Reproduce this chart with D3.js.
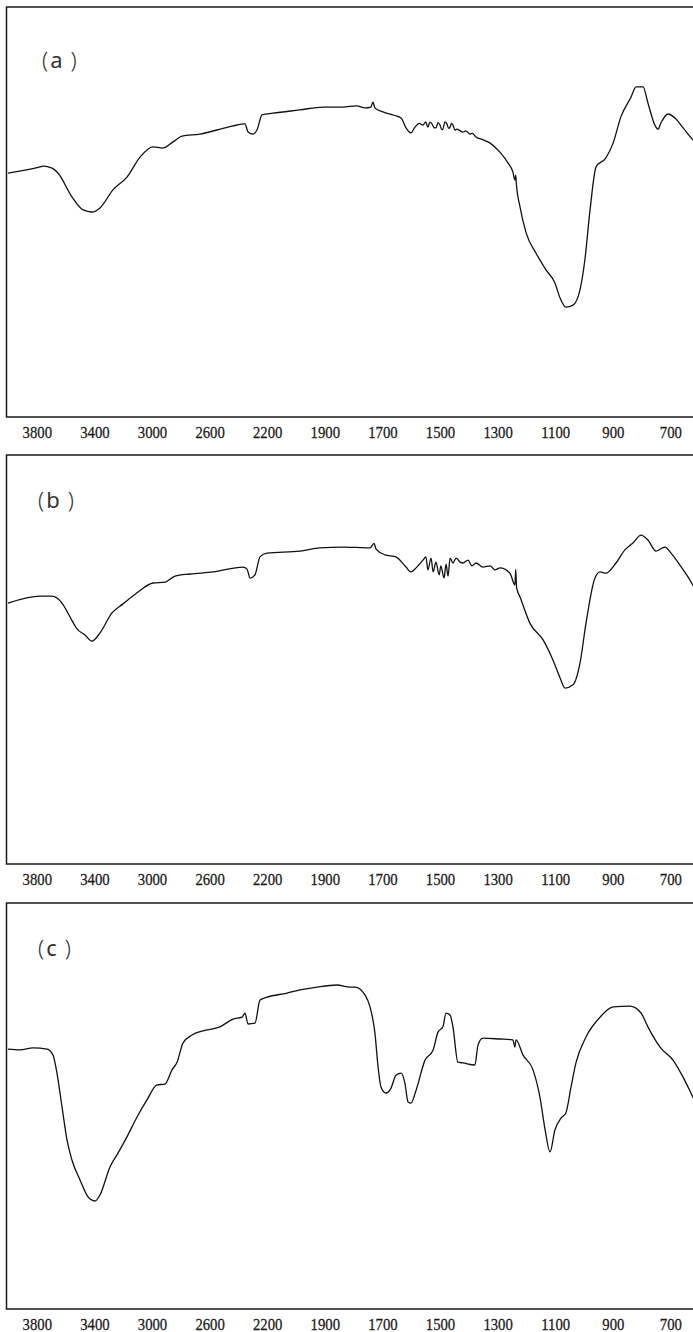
<!DOCTYPE html>
<html>
<head>
<meta charset="utf-8">
<script src="https://cdn.jsdelivr.net/npm/d3@7"></script>
<style>
  body { margin: 0; background: #fff; }
</style>
</head>
<body>
<div id="chart"></div>
<script>
// wavenumber (cm-1) tick labels along the bottom of every panel
var tickLabels = [3800, 3400, 3000, 2600, 2200, 1900, 1700, 1500, 1300, 1100, 900, 700];

// spectra: [wavenumber, transmittance %]
var spectrumA = [
  [4000,59.5],[3778,61.0],[3757,61.2],[3694,60.7],[3653,59.5],[3556,53.7],[3479,50.5],
  [3417,50.0],[3361,51.0],[3271,55.4],[3174,58.5],[3083,63.4],[2993,65.9],[2924,65.6],
  [2854,67.1],[2792,68.5],[2667,69.0],[2549,70.0],[2438,71.0],[2354,71.5],[2333,69.5],
  [2299,69.0],[2271,70.0],[2236,73.7],[2160,74.1],[1987,74.9],[1906,75.6],[1837,75.6],
  [1790,75.9],[1760,75.4],[1740,75.6],[1733,76.8],[1726,75.4],[1698,74.4],[1660,73.6],
  [1635,72.9],[1618,70.5],[1601,69.3],[1587,70.7],[1572,71.6],[1559,71.2],[1550,72.0],
  [1542,70.7],[1535,71.9],[1528,71.5],[1521,70.6],[1514,70.5],[1507,71.8],[1500,71.2],
  [1494,70.1],[1490,70.2],[1483,72.0],[1476,71.5],[1470,70.4],[1465,70.7],[1460,71.6],
  [1455,71.2],[1448,70.0],[1441,70.2],[1432,69.9],[1420,69.5],[1410,69.8],[1396,69.0],
  [1388,69.2],[1375,68.3],[1350,67.6],[1326,66.8],[1292,64.6],[1264,62.0],[1247,59.8],
  [1240,57.8],[1237,59.0],[1235,57.0],[1222,51.2],[1201,44.9],[1167,40.0],[1132,35.9],
  [1101,32.7],[1083,29.0],[1063,26.8],[1038,27.3],[1014,31.0],[997,38.3],[979,50.5],
  [958,61.0],[924,63.2],[899,66.8],[872,73.2],[837,78.0],[819,80.5],[795,80.5],
  [778,76.6],[754,71.2],[743,70.2],[733,71.7],[708,73.9],[684,72.9],[656,70.5],
  [622,67.6],[600,66.0]
];

var spectrumB = [
  [4000,63.8],[3778,65.5],[3694,65.5],[3625,63.8],[3569,60.4],[3521,57.5],[3465,56.0],
  [3417,54.5],[3361,56.5],[3278,61.4],[3201,63.6],[3104,66.3],[2993,68.7],[2910,68.9],
  [2840,70.4],[2736,70.9],[2576,71.4],[2368,72.6],[2340,72.1],[2319,69.9],[2285,70.7],
  [2250,75.1],[2201,76.0],[1986,76.5],[1917,77.3],[1837,77.5],[1743,77.3],[1729,78.4],
  [1722,77.0],[1691,75.6],[1653,75.1],[1618,72.6],[1601,71.4],[1583,72.4],[1559,74.3],
  [1549,75.1],[1542,71.9],[1531,74.8],[1524,71.4],[1514,73.8],[1503,70.7],[1497,72.9],
  [1486,69.9],[1479,73.3],[1472,70.4],[1465,74.8],[1455,73.6],[1444,74.8],[1430,73.8],
  [1420,73.6],[1403,74.3],[1389,72.9],[1375,73.6],[1351,72.6],[1326,72.9],[1309,71.9],
  [1292,72.4],[1257,71.1],[1240,68.2],[1237,72.0],[1234,67.5],[1222,65.3],[1188,58.9],
  [1142,54.8],[1108,49.9],[1083,45.5],[1066,43.0],[1038,43.8],[1014,49.1],[993,58.9],
  [962,69.9],[944,71.4],[924,71.1],[889,73.6],[858,76.8],[830,78.5],[802,80.4],
  [778,79.2],[750,76.5],[719,77.5],[698,76.0],[667,73.1],[639,70.2],[622,68.2],[600,66.0]
];

var spectrumC = [
  [4000,64.0],[3917,63.8],[3826,64.3],[3729,64.0],[3688,62.6],[3660,58.1],[3625,49.8],
  [3590,41.6],[3556,36.7],[3500,31.8],[3444,27.6],[3396,26.6],[3361,28.1],[3292,35.0],
  [3236,38.4],[3174,42.4],[3104,47.3],[3035,51.5],[2965,55.2],[2910,55.4],[2861,58.9],
  [2826,60.8],[2785,65.5],[2722,67.5],[2646,68.5],[2528,69.5],[2438,71.4],[2375,71.9],
  [2354,72.9],[2333,70.2],[2285,70.4],[2250,76.1],[2201,76.8],[2063,77.8],[1986,78.6],
  [1927,79.3],[1858,79.8],[1813,79.3],[1795,79.3],[1760,77.3],[1743,74.4],[1726,68.0],
  [1715,59.6],[1705,54.7],[1688,53.2],[1670,54.4],[1653,57.6],[1635,58.1],[1622,55.7],
  [1611,51.0],[1601,50.7],[1583,53.9],[1552,61.3],[1524,63.8],[1507,68.2],[1490,69.5],
  [1479,72.9],[1465,72.4],[1455,69.5],[1438,60.8],[1420,60.6],[1379,60.1],[1368,65.0],
  [1351,66.7],[1292,66.5],[1247,66.3],[1240,64.5],[1236,66.3],[1212,62.6],[1177,58.9],
  [1153,52.2],[1135,44.1],[1118,38.7],[1101,44.1],[1080,47.0],[1063,48.3],[1045,54.7],
  [1028,60.6],[993,67.0],[944,71.9],[899,74.4],[840,74.6],[802,72.9],[778,69.5],
  [736,64.5],[691,61.3],[656,57.1],[622,52.2],[600,49.0]
];

var panelNames = ["a", "b", "c"];
var spectra = [spectrumA, spectrumB, spectrumC];

var width = 693, height = 1332;
var layout = [
  { top: 7,   bottom: 417,  labelX: 42, labelBase: 61 },
  { top: 455, bottom: 864,  labelX: 38, labelBase: 53 },
  { top: 903, bottom: 1309, labelX: 38, labelBase: 53 }
];

var svg = d3.select("#chart").append("svg")
  .attr("width", width)
  .attr("height", height);

// the wavenumber axis changes scale at 2000 cm-1
var x = d3.scaleLinear()
  .domain([4000, 2000, 400])
  .range([8, 296, 756.8]);

var boxLeft = 6.5;

layout.forEach(function(p, i) {
  var y = d3.scaleLinear().domain([0, 100]).range([p.bottom, p.top]);
  var g = svg.append("g");

  // frame: left, top and bottom edges (right edge is cut off)
  g.append("path")
    .attr("d", "M" + width + "," + p.top + "H" + boxLeft + "V" + p.bottom + "H" + width)
    .style("fill", "none")
    .style("stroke", "#1a1a1a")
    .style("stroke-width", 1.5);

  var line = d3.line()
    .curve(d3.curveMonotoneX)
    .x(function(d) { return x(d[0]); })
    .y(function(d) { return y(d[1]); });

  g.append("path")
    .datum(spectra[i])
    .attr("d", line)
    .style("fill", "none")
    .style("stroke", "#111")
    .style("stroke-width", 1.3)
    .style("stroke-linejoin", "round");

  var axis = d3.axisBottom(x)
    .tickValues(tickLabels)
    .tickSize(0)
    .tickPadding(10)
    .tickFormat(d3.format("d"));

  var ag = g.append("g")
    .attr("transform", "translate(0," + p.bottom + ")")
    .call(axis);
  ag.select(".domain").remove();
  ag.selectAll("text")
    .attr("transform", "scale(0.92,1)")
    .style("font-family", "'Liberation Serif', 'DejaVu Serif', serif")
    .style("font-size", "16px")
    .style("fill", "#1a1a1a")
    .style("stroke", "#1a1a1a")
    .style("stroke-width", 0.25);

  var lab = g.append("text")
    .attr("x", p.labelX)
    .attr("y", p.top + p.labelBase)
    .style("font-family", "'Noto Sans', 'DejaVu Sans', sans-serif")
    .style("font-size", "22px")
    .style("fill", "#333");
  lab.append("tspan").style("font-weight", 300).text("(");
  lab.append("tspan").attr("dx", 2).text(panelNames[i]);
  lab.append("tspan").attr("dx", 8).style("font-weight", 300).text(")");
});
</script>
</body>
</html>
